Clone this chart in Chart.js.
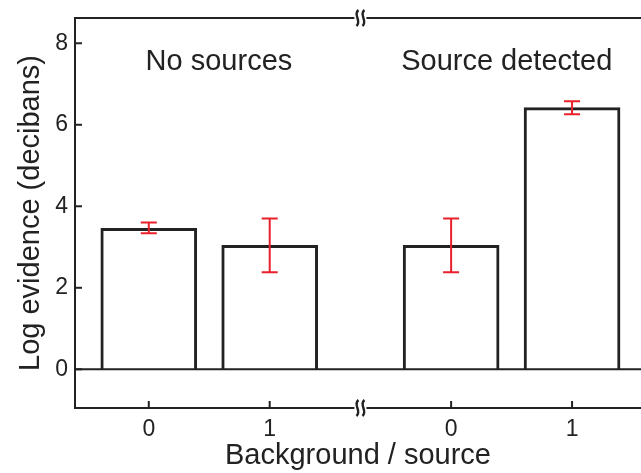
<!DOCTYPE html>
<html lang="en">
  <head>
    <meta charset="UTF-8" />
    <title>Log evidence</title>
    <script src="https://cdn.jsdelivr.net/npm/chart.js@4/dist/chart.umd.min.js"></script>
    <style>
      html, body { margin: 0; padding: 0; background: #fff; }
      #wrap { width: 641px; height: 473px; }
    </style>
  </head>
  <body>
    <div id="wrap"><canvas id="evidenceChart"></canvas></div>
    <script>
      // bar positions on a linear x axis (gap between the two groups)
      const barX = [0, 1, 2.5, 3.5];
      const tickLabels = ["0", "1", "0", "1"];
      const evidence = [3.46, 3.04, 3.04, 6.42];
      const errLow = [3.34, 2.38, 2.38, 6.26];
      const errHigh = [3.60, 3.70, 3.70, 6.58];
      const yTicks = [0, 2, 4, 6, 8];
      const groupNames = ["No sources", "Source detected"];
      const groupX = [0.58, 2.96];
      const groupY = 7.55;

      const ink = "#222";
      const red = "#e8202a";
      const font = "'Liberation Sans', Arial, sans-serif";

      // error bars, frame, inward ticks, zero line, axis breaks, group names
      const extras = {
        id: "extras",
        afterDatasetsDraw(chart) {
          const ctx = chart.ctx;
          const xs = chart.scales.x;
          const ys = chart.scales.y;
          const area = chart.chartArea;
          ctx.save();

          // zero line
          ctx.strokeStyle = ink;
          ctx.lineWidth = 2;
          const y0 = ys.getPixelForValue(0);
          ctx.beginPath();
          ctx.moveTo(area.left, y0);
          ctx.lineTo(area.right, y0);
          ctx.stroke();

          // top frame line
          ctx.beginPath();
          ctx.moveTo(area.left, area.top);
          ctx.lineTo(area.right, area.top);
          ctx.stroke();

          // inward ticks
          yTicks.forEach((v) => {
            const py = ys.getPixelForValue(v);
            ctx.beginPath();
            ctx.moveTo(area.left, py);
            ctx.lineTo(area.left + 7, py);
            ctx.stroke();
          });
          barX.forEach((v) => {
            const px = xs.getPixelForValue(v);
            ctx.beginPath();
            ctx.moveTo(px, area.bottom);
            ctx.lineTo(px, area.bottom - 7);
            ctx.stroke();
          });

          // error bars
          ctx.strokeStyle = red;
          ctx.lineWidth = 2;
          barX.forEach((v, i) => {
            const px = xs.getPixelForValue(v);
            const lo = ys.getPixelForValue(errLow[i]);
            const hi = ys.getPixelForValue(errHigh[i]);
            ctx.beginPath();
            ctx.moveTo(px, lo);
            ctx.lineTo(px, hi);
            ctx.moveTo(px - 8, lo);
            ctx.lineTo(px + 8, lo);
            ctx.moveTo(px - 8, hi);
            ctx.lineTo(px + 8, hi);
            ctx.stroke();
          });

          // axis breaks
          const bx = xs.getPixelForValue(1.75);
          [area.top, area.bottom].forEach((by) => {
            ctx.fillStyle = "#fff";
            ctx.fillRect(bx - 6, by - 3, 12, 6);
            ctx.strokeStyle = ink;
            ctx.lineWidth = 2.4;
            [-3, 3].forEach((dx) => {
              ctx.beginPath();
              ctx.moveTo(bx + dx + 1, by - 8);
              ctx.bezierCurveTo(bx + dx - 5, by - 3, bx + dx + 5, by + 3, bx + dx - 1, by + 8);
              ctx.stroke();
            });
          });

          // group names
          ctx.fillStyle = ink;
          ctx.font = "29px " + font;
          ctx.textAlign = "center";
          ctx.textBaseline = "middle";
          groupNames.forEach((name, i) => {
            ctx.fillText(name, xs.getPixelForValue(groupX[i]), ys.getPixelForValue(groupY));
          });
          ctx.restore();
        },
      };

      new Chart(document.getElementById("evidenceChart").getContext("2d"), {
        type: "bar",
        data: {
          datasets: [
            {
              data: barX.map((x, i) => ({ x: x, y: evidence[i] })),
              backgroundColor: "#fff",
              borderColor: ink,
              borderWidth: 3,
              barThickness: 96,
            },
          ],
        },
        options: {
          responsive: true,
          maintainAspectRatio: false,
          animation: false,
          layout: { padding: { top: 18, right: 0, left: 0, bottom: 0 } },
          plugins: { legend: { display: false }, tooltip: { enabled: false } },
          scales: {
            x: {
              type: "linear",
              offset: false,
              min: -0.61,
              max: 4.07,
              afterBuildTicks: (scale) => {
                scale.ticks = barX.map((v) => ({ value: v }));
              },
              afterFit: (scale) => {
                scale.height = 65;
                scale.paddingLeft = 0;
                scale.paddingRight = 0;
              },
              ticks: {
                color: ink,
                font: { family: font, size: 23 },
                padding: 8,
                maxRotation: 0,
                autoSkip: false,
                callback: (v) => tickLabels[barX.indexOf(v)],
              },
              grid: { display: false, drawTicks: false, offset: false },
              border: { display: true, color: ink, width: 2 },
              title: {
                display: true,
                text: "Background / source",
                color: ink,
                font: { family: font, size: 29 },
                padding: { top: 0, bottom: 0 },
              },
            },
            y: {
              min: -0.95,
              max: 8.62,
              afterBuildTicks: (scale) => {
                scale.ticks = yTicks.map((v) => ({ value: v }));
              },
              afterFit: (scale) => {
                scale.width = 75;
                scale.paddingTop = 0;
                scale.paddingBottom = 0;
              },
              ticks: {
                color: ink,
                font: { family: font, size: 23 },
                padding: 7,
              },
              grid: { display: false, drawTicks: false },
              border: { display: true, color: ink, width: 2 },
              title: {
                display: true,
                text: "Log evidence (decibans)",
                color: ink,
                font: { family: font, size: 29 },
                padding: { top: 14, bottom: 0 },
              },
            },
          },
        },
        plugins: [extras],
      });
    </script>
  </body>
</html>
